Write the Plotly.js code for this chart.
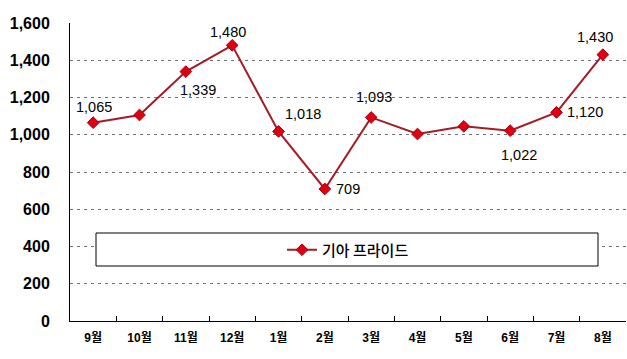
<!DOCTYPE html>
<html>
<head>
<meta charset="utf-8">
<script src="https://cdn.plot.ly/plotly-3.0.1.min.js"></script>
<style>html,body{margin:0;padding:0;background:#fff}#chart{width:627px;height:359px}</style>
</head>
<body>
<div id="chart"></div>
<script>
const months = ['9월','10월','11월','12월','1월','2월','3월','4월','5월','6월','7월','8월'];
const sales = [1065, 1106, 1339, 1480, 1018, 709, 1093, 1004, 1045, 1022, 1120, 1430];
const labelShown = [true, false, true, true, true, true, true, false, false, true, true, true];
const labelDx = [1, 0, 12, -4, 24, 23, 3, 0, 0, 9, 28, -8];
const labelDy = [16, 0, -18, 13, 17, 0, 20, 0, 0, -24, 0, 18];
const seriesName = '기아 프라이드';
const yTicks = [0, 200, 400, 600, 800, 1000, 1200, 1400, 1600];

const annotations = [];
months.forEach((m, i) => {
  if (!labelShown[i]) return;
  annotations.push({
    x: m, y: sales[i], xref: 'x', yref: 'y',
    text: sales[i].toLocaleString('en-US'),
    showarrow: false, xshift: labelDx[i], yshift: labelDy[i],
    font: {family: 'Liberation Sans, Arial, sans-serif', size: 14.5, color: '#000'}
  });
});

const trace = {
  x: months, y: sales, type: 'scatter', mode: 'lines+markers', name: seriesName,
  line: {color: '#a31c26', width: 2},
  marker: {symbol: 'diamond', size: 9, color: '#e00010', line: {color: '#a00010', width: 1}},
  cliponaxis: false
};

const layout = {
  width: 627, height: 359,
  margin: {l: 70, r: 1, t: 23, b: 38},
  paper_bgcolor: '#fff', plot_bgcolor: '#fff',
  showlegend: true,
  legend: {
    x: (282 - 70) / 556, xanchor: 'left', y: (321 - 250) / 298, yanchor: 'middle',
    bgcolor: 'rgba(0,0,0,0)', borderwidth: 0,
    font: {family: 'Noto Sans CJK KR, sans-serif', size: 15, color: '#000', weight: 500}
  },
  xaxis: {
    type: 'category', range: [-0.5, 11.5], fixedrange: true,
    showgrid: false, showline: true, linecolor: '#000', linewidth: 1,
    ticks: 'inside', tickson: 'boundaries', ticklen: 5, tickcolor: '#000', tickwidth: 1,
    tickfont: {family: 'Liberation Sans, Noto Sans CJK KR, sans-serif', size: 12, color: '#000', weight: 'bold'},
    ticklabelstandoff: 6
  },
  yaxis: {
    range: [0, 1600], tickvals: yTicks, ticktext: yTicks.map(v => v.toLocaleString('en-US')),
    showgrid: true, gridcolor: '#707070', griddash: '3px,4px', gridwidth: 1,
    showline: true, linecolor: '#000', linewidth: 1, zeroline: false,
    ticks: '', tickfont: {family: 'Liberation Sans, Arial, sans-serif', size: 16, color: '#000', weight: 'bold'},
    ticklabelstandoff: 16
  },
  shapes: [{
    type: 'rect', xref: 'paper', yref: 'paper',
    x0: (96 - 70) / 556, x1: (598 - 70) / 556, y0: (321 - 266) / 298, y1: (321 - 233) / 298,
    line: {color: '#000', width: 1}, fillcolor: '#fff', layer: 'above'
  }],
  annotations: annotations
};

Plotly.newPlot('chart', [trace], layout, {displayModeBar: false, staticPlot: true});
</script>
</body>
</html>
